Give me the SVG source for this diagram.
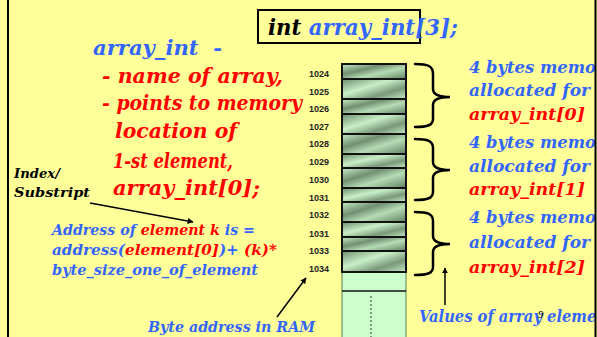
<svg xmlns="http://www.w3.org/2000/svg" width="597" height="337" viewBox="0 0 597 337">
<style>
.h{font-family:"DejaVu Serif","Liberation Serif",serif;font-style:italic;font-weight:bold}
.b{fill:#3366FF}
.r{fill:#FF0000}
.k{fill:#000}
.n{font-family:"Liberation Sans",Arial,sans-serif;font-weight:bold;font-size:9px;fill:#222;text-anchor:end}
.row{stroke:#111;stroke-width:2}
.brace{fill:none;stroke:#000;stroke-width:2.5;stroke-linecap:round}
.ar{stroke:#000;stroke-width:1.5;fill:none;marker-end:url(#ah)}
</style>
<defs>
<linearGradient id="g1" x1="0" y1="0" x2="1" y2="1">
<stop offset="0" stop-color="#c6eec6"/><stop offset="0.35" stop-color="#728f72"/><stop offset="0.6" stop-color="#b5dcb5"/><stop offset="1" stop-color="#627f62"/>
</linearGradient>
<linearGradient id="g2" x1="0" y1="0" x2="1" y2="1">
<stop offset="0" stop-color="#6f8c6f"/><stop offset="0.4" stop-color="#c8f0c8"/><stop offset="0.7" stop-color="#7a987a"/><stop offset="1" stop-color="#c4ecc4"/>
</linearGradient>
<marker id="ah" viewBox="0 0 10 10" refX="9" refY="5" markerWidth="6" markerHeight="6" orient="auto" markerUnits="userSpaceOnUse">
<path d="M0,0 L10,5 L0,10 z" fill="#000"/>
</marker>
<clipPath id="cl"><rect x="0" y="0" width="595" height="337"/></clipPath>
</defs>
<rect x="0" y="0" width="597" height="337" fill="#FFFF99"/>

<g id="declaration">
<rect x="258" y="10" width="162" height="33" fill="none" stroke="#000" stroke-width="2"/>
<text class="h" x="268" y="35" font-size="22" textLength="190" lengthAdjust="spacingAndGlyphs"><tspan class="k">int </tspan><tspan class="b">array_int[3];</tspan></text>
</g>

<g id="array-name-note">
<text class="h b" x="93" y="55" font-size="20" textLength="129" lengthAdjust="spacingAndGlyphs" xml:space="preserve">array_int  -</text>
<text class="h r" x="102" y="83" font-size="20" textLength="181" lengthAdjust="spacingAndGlyphs">- name of array,</text>
<text class="h r" x="102" y="110" font-size="20" textLength="200" lengthAdjust="spacingAndGlyphs">- points to memory</text>
<text class="h r" x="115" y="138" font-size="20" textLength="122" lengthAdjust="spacingAndGlyphs">location of</text>
<text class="h r" x="113" y="168" font-size="20" textLength="120" lengthAdjust="spacingAndGlyphs">1-st element,</text>
<text class="h r" x="113" y="195" font-size="20" textLength="147" lengthAdjust="spacingAndGlyphs">array_int[0];</text>
</g>

<g id="index-label">
<text class="h k" x="14" y="178" font-size="13" textLength="46" lengthAdjust="spacingAndGlyphs">Index/</text>
<text class="h k" x="14" y="197" font-size="13" textLength="76" lengthAdjust="spacingAndGlyphs">Substript</text>
</g>

<g id="address-formula">
<text class="h b" x="52" y="235" font-size="14" textLength="203" lengthAdjust="spacingAndGlyphs">Address of <tspan class="r">element k</tspan> is =</text>
<text class="h b" x="52" y="255" font-size="14" textLength="225" lengthAdjust="spacingAndGlyphs">address(<tspan class="r">element[0]</tspan>)+ <tspan class="r">(k)*</tspan></text>
<text class="h b" x="52" y="275" font-size="14" textLength="206" lengthAdjust="spacingAndGlyphs">byte_size_one_of_element</text>
</g>

<g id="byte-address-label">
<text class="h b" x="148" y="332" font-size="15" textLength="167" lengthAdjust="spacingAndGlyphs">Byte address in RAM</text>
</g>

<g id="memory">
<rect x="342" y="272" width="64" height="70" fill="#CCFFCC" stroke="#5a7a5a" stroke-width="1"/>
<line x1="342" y1="291" x2="406" y2="291" stroke="#111" stroke-width="1.5"/>
<line x1="371" y1="296" x2="371" y2="337" stroke="#333" stroke-width="1" stroke-dasharray="2,2"/>
<rect class="row" x="342" y="64" width="64" height="15" fill="url(#g1)"/>
<rect class="row" x="342" y="79" width="64" height="20" fill="url(#g2)"/>
<rect class="row" x="342" y="99" width="64" height="15" fill="url(#g1)"/>
<rect class="row" x="342" y="114" width="64" height="20" fill="url(#g2)"/>
<rect class="row" x="342" y="134" width="64" height="20" fill="url(#g1)"/>
<rect class="row" x="342" y="154" width="64" height="14" fill="url(#g2)"/>
<rect class="row" x="342" y="168" width="64" height="20" fill="url(#g1)"/>
<rect class="row" x="342" y="188" width="64" height="14" fill="url(#g2)"/>
<rect class="row" x="342" y="202" width="64" height="20" fill="url(#g1)"/>
<rect class="row" x="342" y="222" width="64" height="15" fill="url(#g2)"/>
<rect class="row" x="342" y="237" width="64" height="14" fill="url(#g1)"/>
<rect class="row" x="342" y="251" width="64" height="21" fill="url(#g2)"/>
<text class="n" x="329" y="77">1024</text>
<text class="n" x="329" y="95">1025</text>
<text class="n" x="329" y="112">1026</text>
<text class="n" x="329" y="130">1027</text>
<text class="n" x="329" y="147">1028</text>
<text class="n" x="329" y="165">1029</text>
<text class="n" x="329" y="183">1030</text>
<text class="n" x="329" y="201">1031</text>
<text class="n" x="329" y="218">1032</text>
<text class="n" x="329" y="237">1031</text>
<text class="n" x="329" y="254">1033</text>
<text class="n" x="329" y="272">1034</text>
</g>

<g id="brace-0">
<path class="brace" d="M415,64 C428,64 433,66 433,74 L433,89 C433,95 440,97 450,97 C440,97 433,99 433,105 L433,119 C433,125 428,127 415,127"/>
</g>
<g id="brace-1">
<path class="brace" d="M415,139 C428,139 433,141 433,148 L433,162 C433,168 440,170 450,170 C440,170 433,172 433,178 L433,192 C433,198 428,200 415,200"/>
</g>
<g id="brace-2">
<path class="brace" d="M415,212 C428,212 433,214 433,221 L433,236 C433,242 440,244 450,244 C440,244 433,246 433,252 L433,267 C433,273 428,275 415,275"/>
</g>

<g id="labels-right" clip-path="url(#cl)">
<text class="h b" x="469" y="73" font-size="17" textLength="145" lengthAdjust="spacingAndGlyphs">4 bytes memory</text>
<text class="h b" x="469" y="96" font-size="17" textLength="121" lengthAdjust="spacingAndGlyphs">allocated for</text>
<text class="h r" x="469" y="120" font-size="17" textLength="116" lengthAdjust="spacingAndGlyphs">array_int[0]</text>
<text class="h b" x="469" y="148" font-size="17" textLength="145" lengthAdjust="spacingAndGlyphs">4 bytes memory</text>
<text class="h b" x="469" y="172" font-size="17" textLength="121" lengthAdjust="spacingAndGlyphs">allocated for</text>
<text class="h r" x="469" y="195" font-size="17" textLength="116" lengthAdjust="spacingAndGlyphs">array_int[1]</text>
<text class="h b" x="469" y="223" font-size="17" textLength="145" lengthAdjust="spacingAndGlyphs">4 bytes memory</text>
<text class="h b" x="469" y="248" font-size="17" textLength="121" lengthAdjust="spacingAndGlyphs">allocated for</text>
<text class="h r" x="469" y="273" font-size="17" textLength="116" lengthAdjust="spacingAndGlyphs">array_int[2]</text>
<text class="h b" x="419" y="322" font-size="16" textLength="203" lengthAdjust="spacingAndGlyphs">Values of array elements</text>
<text x="538" y="318" font-family="Liberation Serif,serif" font-style="italic" font-size="11" fill="#000">9</text>
</g>

<g id="connectors">
<line class="ar" x1="90" y1="203" x2="193" y2="222"/>
<line class="ar" x1="277" y1="317" x2="306" y2="278"/>
<line class="ar" x1="445" y1="305" x2="445" y2="268"/>
</g>

<line x1="8" y1="0" x2="8" y2="337" stroke="#000" stroke-width="2"/>
<line x1="595.5" y1="0" x2="595.5" y2="337" stroke="#000" stroke-width="2"/>
</svg>
